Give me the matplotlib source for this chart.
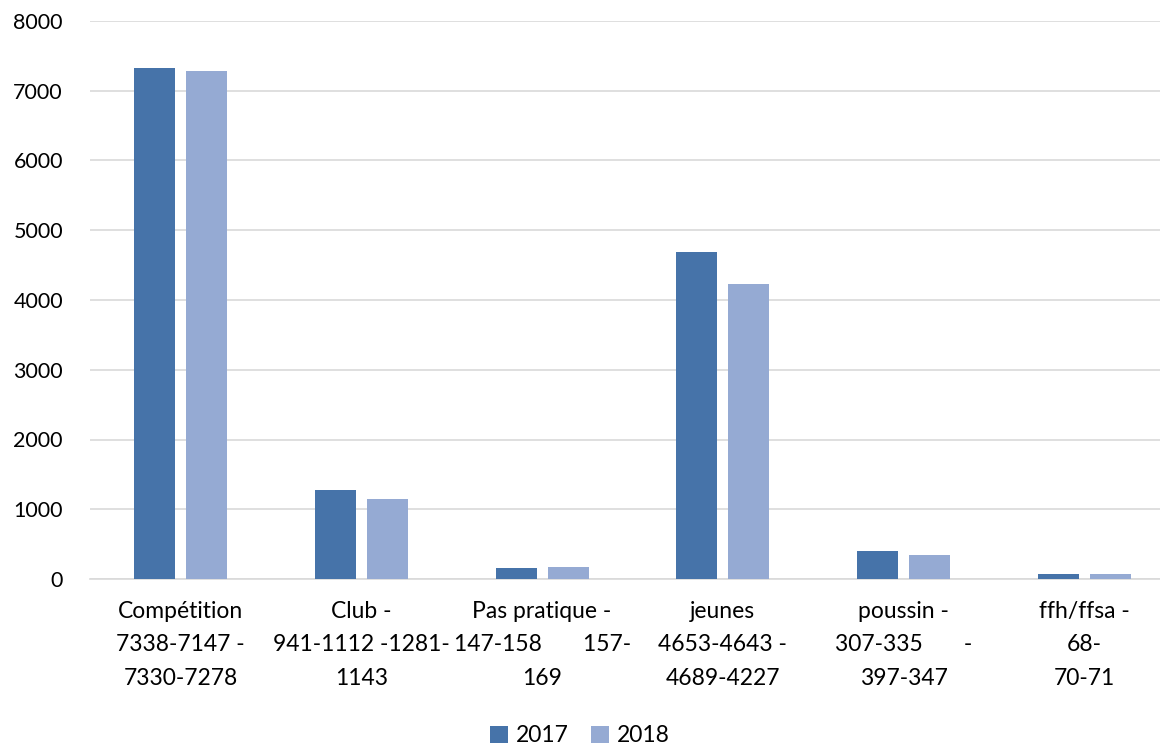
import matplotlib
matplotlib.use("Agg")
import matplotlib.pyplot as plt
import numpy as np

categories = [
    "Compétition\n7338-7147 -\n7330-7278",
    "Club -\n941-1112 -1281-\n1143",
    "Pas pratique -\n147-158       157-\n169",
    "jeunes\n4653-4643 -\n4689-4227",
    "poussin -\n307-335       -\n397-347",
    "ffh/ffsa -\n68-\n70-71",
]
series_names = ["2017", "2018"]
values_2017 = [7330, 1281, 157, 4689, 397, 70]
values_2018 = [7278, 1143, 169, 4227, 347, 71]
yticks = [0, 1000, 2000, 3000, 4000, 5000, 6000, 7000, 8000]

plt.rcParams['font.family'] = ['Lato', 'DejaVu Sans']

fig = plt.figure(figsize=(11.6, 7.46), dpi=100)
ax = fig.add_axes([90/1160, 1 - 579/746, 1085/1160, (579-21)/746])

x = np.arange(len(categories))
w = 0.227
gap = 0.061
c1 = "#4673A9"
c2 = "#95AAD3"
ax.bar(x - (w + gap)/2, values_2017, w, color=c1, label=series_names[0], zorder=3)
ax.bar(x + (w + gap)/2, values_2018, w, color=c2, label=series_names[1], zorder=3)

ax.set_xlim(-0.5, len(categories) - 0.5)
ax.set_ylim(0, 8000)
ax.set_yticks(yticks)
ax.set_yticklabels([str(v) for v in yticks], fontsize=15.5)
ax.yaxis.grid(True, color="#D9D9D9", linewidth=1.2, zorder=0)
ax.set_axisbelow(True)
for s in ["top", "right", "left"]:
    ax.spines[s].set_visible(False)
ax.spines["bottom"].set_color("#D9D9D9")
ax.spines["bottom"].set_linewidth(1.2)
ax.tick_params(axis="y", length=0, pad=19.5)
ax.tick_params(axis="x", length=0, pad=16)
ax.set_xticks(x)
ax.set_xticklabels(categories, fontsize=16.5, linespacing=1.72)

leg = fig.legend(loc="center", bbox_to_anchor=(0.5, 1 - 736/746), ncol=2, frameon=False,
                 fontsize=16.5, handlelength=0.75, handleheight=0.75, handletextpad=0.35,
                 columnspacing=1.0)

fig.savefig("out.png", dpi=100)
